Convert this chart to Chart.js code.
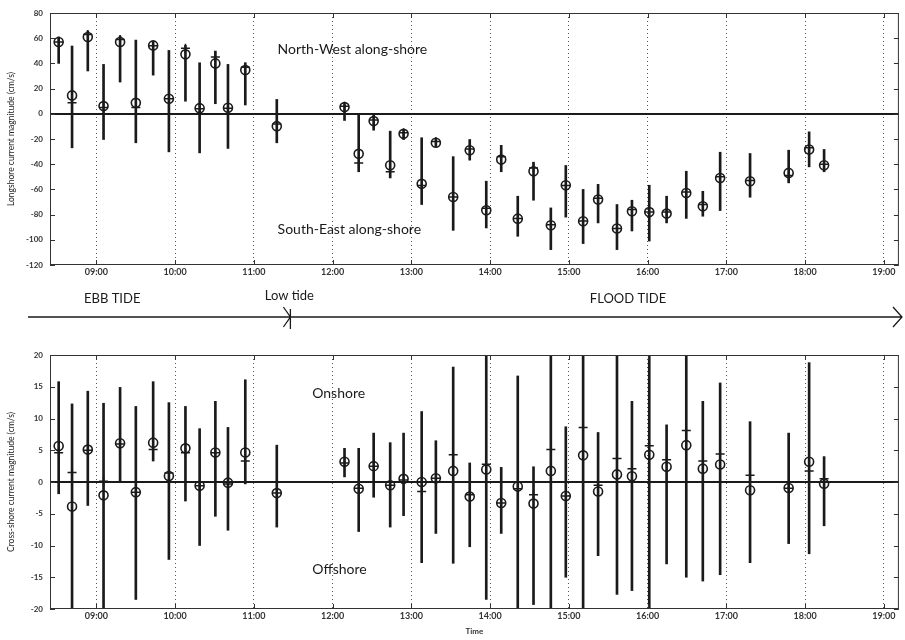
<!DOCTYPE html>
<html>
<head>
<meta charset="utf-8">
<script src="https://cdn.jsdelivr.net/npm/chart.js@4.4.0/dist/chart.umd.min.js"></script>
<style>
  body { margin: 0; background: #fff; width: 905px; height: 640px; position: relative; overflow: hidden; }
  canvas { position: absolute; left: 0; }
  #top { top: 0; }
  #bottom { top: 340px; }
</style>
</head>
<body>
<canvas id="top" width="905" height="340"></canvas>
<canvas id="bottom" width="905" height="300"></canvas>
<script>
// sample times (decimal hours), shared by both panels
const times = [8.52, 8.69, 8.89, 9.09, 9.30, 9.50, 9.72, 9.92, 10.13, 10.31,
  10.51, 10.67, 10.89, 11.29, 12.15, 12.33, 12.52, 12.73, 12.90, 13.13,
  13.31, 13.53, 13.74, 13.95, 14.14, 14.35, 14.55, 14.77, 14.96, 15.18,
  15.37, 15.61, 15.80, 16.02, 16.24, 16.49, 16.70, 16.92, 17.30, 17.79,
  18.05, 18.24];

const hourTicks = [9, 10, 11, 12, 13, 14, 15, 16, 17, 18, 19];
const hourLabels = ["09:00", "10:00", "11:00", "12:00", "13:00", "14:00", "15:00", "16:00", "17:00", "18:00", "19:00"];

// longshore (top panel)
const longTicks = [-120, -100, -80, -60, -40, -20, 0, 20, 40, 60, 80];
const longMean = [57, 14.6, 61, 6.1, 57, 8.7, 54.3, 11.9, 47.2, 4.5,
  40, 4.8, 34.7, -9.8, 5.3, -31.8, -5.8, -40.8, -15.9, -55.6,
  -23, -66, -28.9, -76.6, -36.3, -83.2, -45.6, -88.5, -56.7, -85.3,
  -68, -91, -77.4, -78, -79.2, -62.8, -73.4, -50.9, -53.5, -46.9,
  -28.3, -40.8];
const longMedian = [57, 8.7, 63, 5, 59, 5, 54, 12, 52, 4,
  45, 4.5, 37, -8, 6, -39, -5, -46, -15, -57,
  -22, -66, -28, -75, -34, -83, -43, -88, -57, -85,
  -67, -91, -76, -78, -78, -62, -72, -50, -53, -49,
  -27, -40];
const longLow = [40, -27, 34, -20.4, 25.2, -23, 30.7, -30.2, 10, -31,
  8, -27.5, 7, -23, -5.3, -46, -13, -50.9, -20.4, -72,
  -26, -92.5, -36.8, -90.6, -46, -97.2, -68.6, -107.8, -82, -103,
  -86.6, -107.8, -93, -101, -86.6, -83, -81.3, -76.8, -66.2, -54.8,
  -42.1, -46];
const longHigh = [61, 53.8, 65.7, 39.2, 61.7, 58.5, 57, 50.3, 54.3, 40.5,
  49.8, 39.2, 40.5, 11.4, 8.2, 0, 0, -13.8, -12.5, -19,
  -20, -34, -20.4, -53.5, -25, -65.4, -38.4, -74.7, -41, -60,
  -56, -72, -68.6, -56.7, -65.4, -45.6, -61.5, -30.5, -31.5, -28.9,
  -14.3, -28.3];

// cross-shore (bottom panel)
const crossTicks = [-20, -15, -10, -5, 0, 5, 10, 15, 20];
const crossMean = [5.66, -3.86, 5.1, -2.1, 6.1, -1.6, 6.2, 0.95, 5.3, -0.6,
  4.65, -0.1, 4.65, -1.75, 3.2, -1.06, 2.5, -0.5, 0.5, 0,
  0.6, 1.75, -2.3, 1.96, -3.3, -0.7, -3.4, 1.75, -2.2, 4.2,
  -1.5, 1.2, 0.9, 4.3, 2.4, 5.8, 2.1, 2.75, -1.3, -0.95,
  3.2, -0.26];
const crossMedian = [4.6, 1.5, 5, 0.1, 6, -1.6, 5.1, 1.4, 4.6, -0.6,
  4.6, -0.3, 3.3, -1.75, 3, -1, 2.5, -0.5, 0.3, -1.5,
  0.6, 4.3, -2, 2.8, -3.3, -1.06, -2, 5.1, -2.2, 8.6,
  -0.5, 3.7, 2.1, 5.7, 3.5, 8.1, 3.3, 4.4, 1.06, -1,
  1.75, 0.5];
const crossLow = [-1.85, -22, -3.7, -22, 0, -18.5, 3.3, -12.2, -3, -10,
  -5.4, -7.6, -0.3, -7.1, 0.8, -7.8, -2.4, -7.1, -5.3, -12.7,
  -8.1, -12.8, -10.2, -18.5, -8.1, -22, -19.3, -22, -15, -22,
  -11.6, -17.7, -17.1, -22, -12.9, -15, -15.6, -14.6, -12.7, -9.7,
  -11.3, -6.9];
const crossHigh = [15.8, 12.3, 14.3, 12.4, 14.9, 11.9, 15.8, 12.5, 11.9, 8.4,
  12.7, 8.6, 16.1, 5.8, 5.3, 5.3, 7.7, 6.2, 7.7, 11.1,
  6.5, 18.1, 3, 22, 2.3, 16.7, 2.4, 22, 8.7, 22,
  7.8, 22, 12.7, 22, 9, 22, 12.7, 15.6, 9.5, 7.7,
  18.8, 4];

const longNotes = [
  { text: "North-West along-shore", x: 11.3, y: 51 },
  { text: "South-East along-shore", x: 11.3, y: -92 }
];
const crossNotes = [
  { text: "Onshore", x: 11.74, y: 14 },
  { text: "Offshore", x: 11.74, y: -13.8 }
];
const tideNotes = [
  { text: "EBB TIDE", x: 9.2 },
  { text: "Low tide", x: 11.45 },
  { text: "FLOOD TIDE", x: 15.75 }
];
const lowTideTime = 11.45;

const FONT = "Lato, 'Liberation Sans', sans-serif";
const INK = "#1a1a1a";

function framePlugin(notes) {
  return {
    id: "frame",
    afterDraw(chart) {
      const { ctx, chartArea: a, scales: { x, y } } = chart;
      ctx.save();
      ctx.strokeStyle = "#333";
      ctx.lineWidth = 1;
      ctx.strokeRect(a.left + 0.5, a.top + 0.5, a.right - a.left - 1, a.bottom - a.top - 1);
      // inward tick marks
      ctx.beginPath();
      y.ticks.forEach(t => {
        const py = Math.round(y.getPixelForValue(t.value)) + 0.5;
        ctx.moveTo(a.left, py); ctx.lineTo(a.left + 5, py);
        ctx.moveTo(a.right, py); ctx.lineTo(a.right - 5, py);
      });
      x.ticks.forEach(t => {
        const px = Math.round(x.getPixelForValue(t.value)) + 0.5;
        ctx.moveTo(px, a.top); ctx.lineTo(px, a.top + 5);
        ctx.moveTo(px, a.bottom); ctx.lineTo(px, a.bottom - 5);
      });
      ctx.stroke();
      // text notes
      ctx.fillStyle = INK;
      ctx.font = "14px " + FONT;
      ctx.textAlign = "left";
      ctx.textBaseline = "middle";
      notes.forEach(n => ctx.fillText(n.text, x.getPixelForValue(n.x), y.getPixelForValue(n.y)));
      ctx.restore();
    }
  };
}

const tidePlugin = {
  id: "tide",
  afterDraw(chart) {
    const { ctx, scales: { x } } = chart;
    const ly = 317;
    ctx.save();
    ctx.strokeStyle = INK;
    ctx.fillStyle = INK;
    ctx.lineWidth = 1.3;
    ctx.beginPath();
    ctx.moveTo(28, ly); ctx.lineTo(902, ly);
    // arrow head at the right end
    ctx.moveTo(893, ly - 10); ctx.lineTo(902, ly); ctx.lineTo(893, ly + 10);
    // low tide mark
    const lx = x.getPixelForValue(lowTideTime);
    ctx.moveTo(lx - 6, ly - 10); ctx.lineTo(lx + 1, ly); ctx.lineTo(lx - 6, ly + 10);
    ctx.moveTo(lx + 1, ly - 8); ctx.lineTo(lx + 1, ly + 12);
    ctx.stroke();
    ctx.font = "13px " + FONT;
    ctx.textAlign = "center";
    ctx.textBaseline = "middle";
    tideNotes.forEach(n => ctx.fillText(n.text, x.getPixelForValue(n.x), n.text === "Low tide" ? 296 : 299));
    ctx.restore();
  }
};

function makePanel(id, cfg) {
  const datasets = [
    {
      type: "bar",
      data: times.map((t, i) => ({ x: t, y: [cfg.low[i], cfg.high[i]] })),
      backgroundColor: INK,
      borderWidth: 0,
      barThickness: 2,
      grouped: false,
      order: 3
    },
    {
      type: "scatter",
      data: times.map((t, i) => ({ x: t, y: cfg.mean[i] })),
      pointStyle: "circle",
      pointRadius: 4.5,
      borderColor: INK,
      backgroundColor: "rgba(0,0,0,0)",
      borderWidth: 1.6,
      order: 1
    },
    {
      type: "scatter",
      data: times.map((t, i) => ({ x: t, y: cfg.median[i] })),
      pointStyle: "cross",
      pointRadius: 4.5,
      borderColor: INK,
      borderWidth: 1.5,
      order: 2
    }
  ];
  return new Chart(document.getElementById(id), {
    type: "bar",
    data: { datasets: datasets },
    plugins: cfg.plugins,
    options: {
      responsive: false,
      animation: false,
      events: [],
      layout: { padding: cfg.padding },
      plugins: { legend: { display: false }, tooltip: { enabled: false } },
      scales: {
        x: {
          type: "linear",
          min: 8.41,
          max: 19.19,
          offset: false,
          afterBuildTicks: s => { s.ticks = hourTicks.map(v => ({ value: v })); },
          afterFit: s => { s.height = cfg.xHeight; },
          ticks: {
            callback: v => hourLabels[hourTicks.indexOf(v)],
            font: { family: FONT, size: 9, weight: "bold" },
            color: "#333",
            padding: 2,
            maxRotation: 0,
            autoSkip: false
          },
          grid: { color: "#555", lineWidth: 1, drawTicks: false, offset: false },
          border: { display: false, dash: [1, 3] },
          title: {
            display: !!cfg.xTitle,
            text: cfg.xTitle || "",
            font: { family: FONT, size: 8, weight: "bold" },
            color: "#333",
            padding: { top: 0, bottom: 4 }
          }
        },
        y: {
          min: cfg.ticks[0],
          max: cfg.ticks[cfg.ticks.length - 1],
          afterBuildTicks: s => { s.ticks = cfg.ticks.map(v => ({ value: v })); },
          afterFit: s => { s.width = 50; },
          ticks: {
            font: { family: FONT, size: 8, weight: "bold" },
            color: "#333",
            padding: 7
          },
          grid: {
            color: c => (c.tick && c.tick.value === 0 ? INK : "rgba(0,0,0,0)"),
            lineWidth: 2,
            drawTicks: false
          },
          border: { display: false },
          title: {
            display: true,
            text: cfg.yTitle,
            font: { family: FONT, size: 8.5 },
            color: "#222",
            padding: { top: 6, bottom: 0 }
          }
        }
      }
    }
  });
}

makePanel("top", {
  low: longLow, high: longHigh, mean: longMean, median: longMedian,
  ticks: longTicks,
  yTitle: "Longshore current magnitude (cm/s)",
  padding: { top: 13, right: 2, left: 0, bottom: 55 },
  xHeight: 20,
  plugins: [framePlugin(longNotes), tidePlugin]
});

makePanel("bottom", {
  low: crossLow, high: crossHigh, mean: crossMean, median: crossMedian,
  ticks: crossTicks,
  yTitle: "Cross-shore current magnitude (cm/s)",
  xTitle: "Time",
  padding: { top: 15, right: 2, left: 0, bottom: 0 },
  xHeight: 31,
  plugins: [framePlugin(crossNotes)]
});
</script>
</body>
</html>
